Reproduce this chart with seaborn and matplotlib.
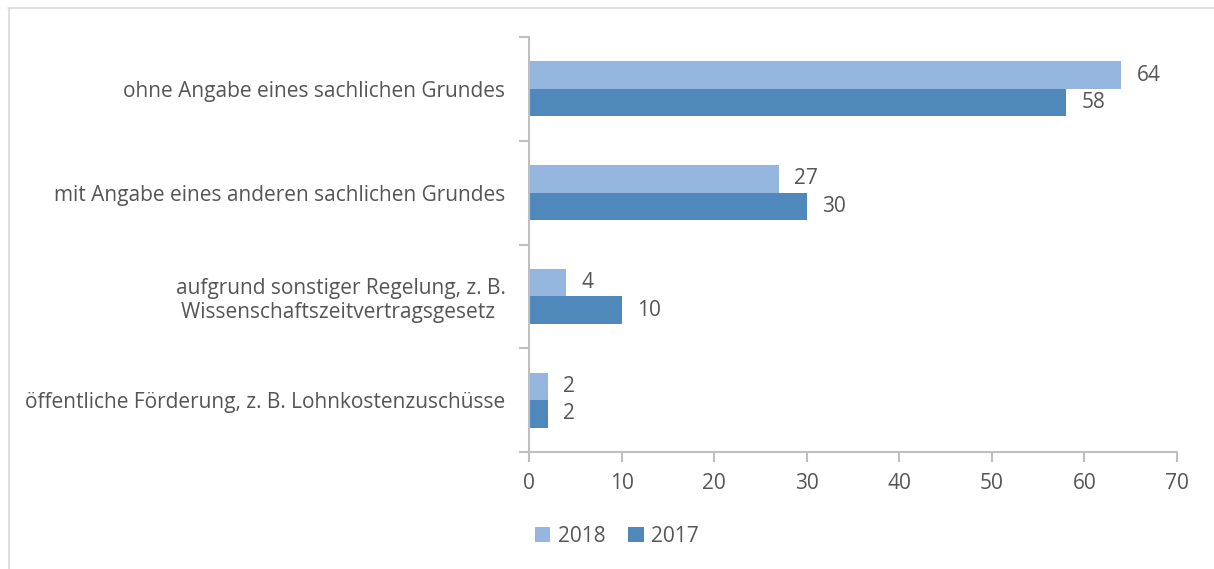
import pandas as pd
import seaborn as sns
import matplotlib.pyplot as plt
from matplotlib.lines import Line2D
from matplotlib.ticker import FixedLocator

# Data
categories = [
    "ohne Angabe eines sachlichen Grundes",
    "mit Angabe eines anderen sachlichen Grundes",
    "aufgrund sonstiger Regelung, z. B.\nWissenschaftszeitvertragsgesetz ",
    "öffentliche Förderung, z. B. Lohnkostenzuschüsse",
]
years = ["2018", "2017"]
values_2018 = [64, 27, 4, 2]
values_2017 = [58, 30, 10, 2]

palette = {"2018": "#95B7DF", "2017": "#4F89BC"}
text_color = "#555555"
axis_color = "#BFBFBF"

df = pd.DataFrame({
    "category": categories * 2,
    "year": ["2018"] * 4 + ["2017"] * 4,
    "value": values_2018 + values_2017,
})

sns.set_theme(style="white")
plt.rcParams["font.family"] = ["Open Sans", "DejaVu Sans"]
fs = 15

fig = plt.figure(figsize=(12.14, 5.69), dpi=100)
ax = fig.add_axes([529 / 1214, 1 - 452 / 569, 648 / 1214, 415 / 569])

sns.barplot(data=df, x="value", y="category", hue="year", hue_order=years,
            order=categories, palette=palette, width=0.53, orient="h",
            saturation=1, linewidth=0, ax=ax, legend=True)

# Value labels next to the bars
for container in ax.containers:
    ax.bar_label(container, labels=[f"{v:.0f}" for v in container.datavalues],
                 padding=11, fontsize=fs, color=text_color)

ax.set_xlim(0, 70)
ax.set_ylim(3.5, -0.5)
ax.set_xticks(range(0, 71, 10))
ax.set_xlabel("")
ax.set_ylabel("")

# Y category labels
ax.set_yticks(range(len(categories)))
ax.set_yticklabels(categories, multialignment="center")
ax.tick_params(axis="y", which="major", length=0, pad=17, labelsize=fs, labelcolor=text_color)
ax.yaxis.set_minor_locator(FixedLocator([-0.5, 0.5, 1.5, 2.5, 3.5]))
ax.tick_params(axis="y", which="minor", left=True, length=7, width=1.5, color=axis_color)
ax.tick_params(axis="x", which="major", bottom=True, length=7, width=1.5,
               color=axis_color, labelsize=fs, labelcolor=text_color, pad=8)

for side in ["top", "right"]:
    ax.spines[side].set_visible(False)
for side in ["left", "bottom"]:
    ax.spines[side].set_color(axis_color)
    ax.spines[side].set_linewidth(1.5)

# Legend below the axis
handles, labels = ax.get_legend_handles_labels()
ax.legend(handles, labels, loc="center", bbox_to_anchor=(0.508, 0.057),
          bbox_transform=fig.transFigure, ncol=2, frameon=False,
          fontsize=fs, labelcolor=text_color, handlelength=0.75, handleheight=0.75,
          handletextpad=0.35, columnspacing=1.1)

# Thin chart border (top and left)
fig.add_artist(Line2D([8 / 1214, 1], [1 - 8 / 569, 1 - 8 / 569],
                      transform=fig.transFigure, color="#D9D9D9", linewidth=1.2))
fig.add_artist(Line2D([8.5 / 1214, 8.5 / 1214], [0, 1 - 8 / 569],
                      transform=fig.transFigure, color="#D9D9D9", linewidth=1.2))

plt.savefig("out.png", dpi=100)
